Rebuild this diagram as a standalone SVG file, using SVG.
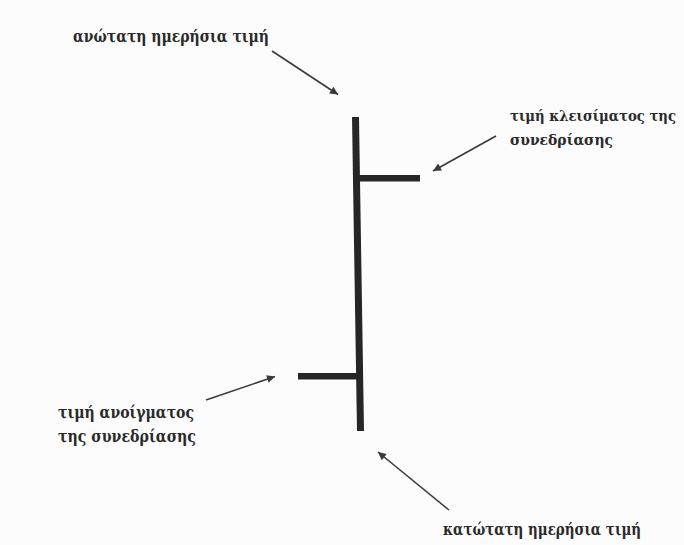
<svg xmlns="http://www.w3.org/2000/svg" width="684" height="545" viewBox="0 0 684 545">
  <style>
    .lbl { font-family: "DejaVu Serif Condensed", "DejaVu Serif", "Liberation Serif", serif; font-weight: bold; font-size: 17px; fill: #2a2a2a; }
    .sm { font-size: 15px; }
    .arrow { stroke: #3a3a3a; stroke-width: 1.6; fill: none; marker-end: url(#ah); }
    .bar { fill: #262626; }
  </style>
  <defs>
    <marker id="ah" viewBox="0 0 10 10" refX="10" refY="5" markerWidth="10" markerHeight="8" markerUnits="userSpaceOnUse" orient="auto">
      <path d="M0,0 L10,5 L0,10 z" fill="#3a3a3a"/>
    </marker>
  </defs>
  <rect width="684" height="545" fill="#fcfcfc"/>

  <g id="chart-bar">
    <polygon class="bar" points="352,117 359,117 364,431 357,431"/>
    <rect class="bar" x="358" y="175" width="62" height="6.5"/>
    <rect class="bar" x="298" y="373" width="62" height="6.5"/>
  </g>

  <g id="label-high">
    <text class="lbl" x="73" y="42" textLength="196" lengthAdjust="spacingAndGlyphs">ανώτατη ημερήσια τιμή</text>
  </g>
  <g id="label-close">
    <text class="lbl sm" x="510" y="121" textLength="166" lengthAdjust="spacingAndGlyphs">τιμή κλεισίματος της</text>
    <text class="lbl sm" x="510" y="145" textLength="103" lengthAdjust="spacingAndGlyphs">συνεδρίασης</text>
  </g>
  <g id="label-open">
    <text class="lbl" x="58" y="418" textLength="136" lengthAdjust="spacingAndGlyphs">τιμή ανοίγματος</text>
    <text class="lbl" x="58" y="442" textLength="138" lengthAdjust="spacingAndGlyphs">της συνεδρίασης</text>
  </g>
  <g id="label-low">
    <text class="lbl" x="443" y="535" textLength="198" lengthAdjust="spacingAndGlyphs">κατώτατη ημερήσια τιμή</text>
  </g>

  <g id="connectors">
    <line class="arrow" x1="272" y1="51" x2="338" y2="94.5"/>
    <line class="arrow" x1="496" y1="136" x2="433" y2="171"/>
    <line class="arrow" x1="206" y1="400" x2="275" y2="376.5"/>
    <line class="arrow" x1="449" y1="510" x2="378" y2="452"/>
  </g>
</svg>
